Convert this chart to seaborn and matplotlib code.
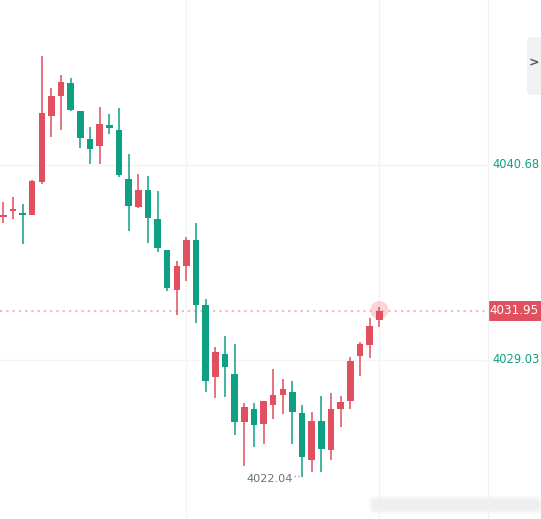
import numpy as np
import pandas as pd
import matplotlib
matplotlib.use("Agg")
import matplotlib.pyplot as plt
import seaborn as sns
from matplotlib.patches import Rectangle, FancyBboxPatch

# ---- data ----
opens  = [4037.56, 4037.92, 4037.80, 4037.68, 4039.67, 4043.61, 4044.80, 4045.56, 4043.89, 4042.22,
          4041.82, 4043.04, 4042.77, 4039.83, 4038.16, 4039.17, 4037.44, 4035.61, 4033.22, 4034.65,
          4036.19, 4032.31, 4028.01, 4029.38, 4028.19, 4025.34, 4026.10, 4025.20, 4026.34, 4026.94,
          4027.11, 4025.86, 4023.07, 4025.38, 4023.67, 4026.12, 4026.59, 4029.28, 4029.92, 4031.40]
highs  = [4038.46, 4038.76, 4038.34, 4039.77, 4047.17, 4045.28, 4046.04, 4045.86, 4043.89, 4042.94,
          4044.15, 4043.71, 4044.09, 4041.32, 4040.13, 4040.01, 4039.11, 4035.61, 4034.95, 4036.39,
          4037.22, 4032.67, 4029.80, 4030.46, 4030.00, 4026.44, 4026.44, 4026.58, 4028.49, 4027.87,
          4027.77, 4026.34, 4025.92, 4026.89, 4027.05, 4026.88, 4029.20, 4030.12, 4031.55, 4032.20]
lows   = [4037.20, 4037.44, 4035.95, 4037.68, 4039.53, 4042.34, 4042.76, 4043.89, 4041.70, 4040.74,
          4040.74, 4042.50, 4039.97, 4036.73, 4038.12, 4036.03, 4035.49, 4033.14, 4031.71, 4033.74,
          4031.25, 4027.13, 4026.77, 4026.82, 4024.55, 4022.68, 4023.85, 4024.01, 4025.48, 4025.80,
          4024.03, 4022.04, 4022.36, 4022.36, 4023.07, 4025.04, 4026.10, 4028.09, 4029.13, 4031.00]
closes = [4037.68, 4038.04, 4037.68, 4039.71, 4043.77, 4044.79, 4045.62, 4043.95, 4042.30, 4041.64,
          4043.11, 4042.89, 4040.07, 4038.24, 4039.17, 4037.52, 4035.73, 4033.31, 4034.64, 4036.19,
          4032.31, 4027.79, 4029.50, 4028.62, 4025.34, 4026.22, 4025.14, 4026.58, 4026.94, 4027.29,
          4025.94, 4023.23, 4025.38, 4023.73, 4026.10, 4026.52, 4028.96, 4029.96, 4031.05, 4031.95]

last_price = 4031.95
axis_labels = [4040.68, 4029.03]
min_label = "4022.04"
min_price = 4022.04

df = pd.DataFrame({"open": opens, "high": highs, "low": lows, "close": closes})
df["idx"] = np.arange(len(df))
df["up"] = df["close"] >= df["open"]

RED = "#e0505e"
GREEN = "#0f9f82"

sns.set_theme(style="white")
plt.rcParams["font.family"] = ["DejaVu Sans"]

W, H = 541, 519
fig = plt.figure(figsize=(W / 100, H / 100), dpi=100)
axw = 488 / W
ax = fig.add_axes([0, 0, axw, 1])
ax.set_facecolor("white")
for s in ax.spines.values():
    s.set_visible(False)
ax.set_xticks([])
ax.set_yticks([])

# grid lines
for v in axis_labels:
    ax.axhline(v, color="#f4f4f4", lw=1, zorder=0)
for xi in [19, 39]:
    ax.axvline(xi, color="#f4f4f4", lw=1, zorder=0)

# glow on last candle
sns.scatterplot(x=[39], y=[last_price + 0.05], s=170, color="#f6aab2", alpha=0.5,
                edgecolor="none", ax=ax, zorder=1.5, legend=False)

# wicks
colors = np.where(df["up"], RED, GREEN)
ax.vlines(df["idx"], df["low"], df["high"], colors=colors, lw=1.1, zorder=2)
# bodies
bottom = np.minimum(df["open"], df["close"])
height = np.maximum(np.abs(df["close"] - df["open"]), 0.12)
ax.bar(df["idx"], height, bottom=bottom, width=0.68, color=colors, edgecolor="none", zorder=3)

# last price dotted line
ax.axhline(last_price, color="#f0a6ae", lw=1.1, ls=(0, (1.5, 2.6)), zorder=1)

# min label
ax.plot([30.2, 31.0], [min_price + 0.05, min_price + 0.05], color="#9a9ca3", lw=1,
        ls=(0, (1, 1.6)), zorder=2)
ax.text(30.0, min_price - 0.15, min_label, ha="right", va="center", fontsize=8.1,
        color="#6f717a")

ax.set_xlim(-0.34, 50.28)
ax.set_ylim(4019.53, 4050.52)

# price axis separator
fig.add_artist(plt.Line2D([axw, axw], [0, 1], color="#f1f1f1", lw=1))

def ypix(p):
    return (p - 4019.53) / (4050.52 - 4019.53)

for v in axis_labels:
    fig.text(492 / W, ypix(v), f"{v:.2f}", ha="left", va="center", fontsize=8.3, color=GREEN)

# last price box
yb = ypix(last_price)
fig.add_artist(Rectangle((488 / W, yb - 10 / H), 53 / W, 20 / H, transform=fig.transFigure,
                         facecolor=RED, edgecolor="none"))
fig.text(514.5 / W, yb, f"{last_price:.2f}", ha="center", va="center", fontsize=8.6,
         color="white")

# collapse panel top right
fig.add_artist(FancyBboxPatch((527 / W, 1 - 95 / H), 20 / W, 58 / H, transform=fig.transFigure,
                              boxstyle="round,pad=0,rounding_size=0.01",
                              facecolor="#f2f2f4", edgecolor="none"))
fig.text(534 / W, 1 - 63 / H, ">", ha="center", va="center", fontsize=9, color="#555",
         fontweight="bold")

# faint blurred watermark at bottom right
for pad, a in [(3, 0.25), (1.5, 0.4), (0, 0.6)]:
    fig.add_artist(FancyBboxPatch(((372 - pad) / W, 1 - (511 + pad) / H), (168 + 2 * pad) / W,
                                  (12 + 2 * pad) / H, transform=fig.transFigure,
                                  boxstyle="round,pad=0,rounding_size=0.012",
                                  facecolor="#ededef", edgecolor="none", alpha=a))

fig.savefig("out.png", dpi=100)
